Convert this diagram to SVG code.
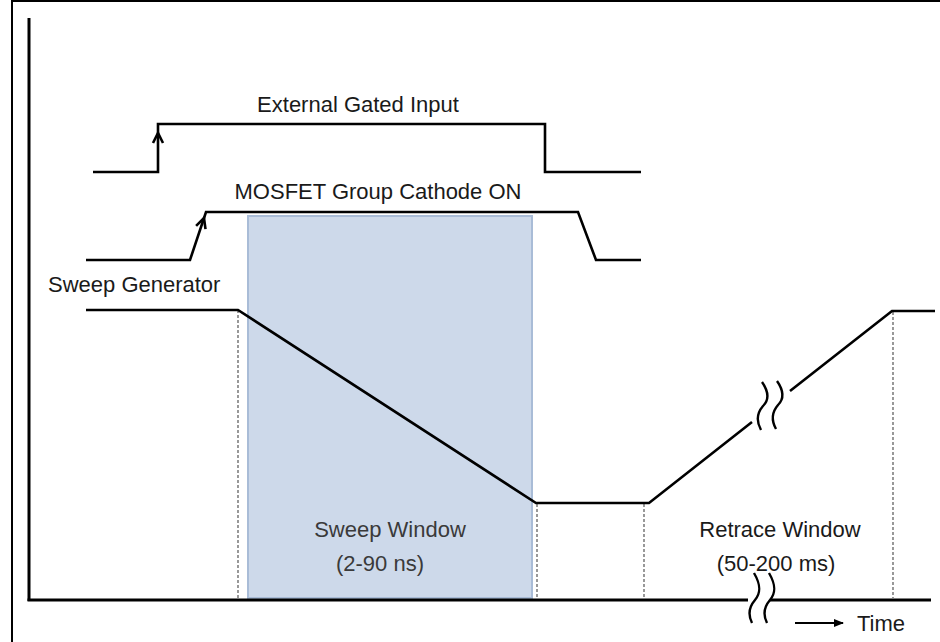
<svg xmlns="http://www.w3.org/2000/svg" width="940" height="642" viewBox="0 0 940 642">
<style>
.sig{fill:none;stroke:#000;stroke-width:2.6;stroke-linejoin:miter;stroke-linecap:butt}
.axis{fill:none;stroke:#000;stroke-width:3}
.dot{fill:none;stroke:#555;stroke-width:1.2;stroke-dasharray:3 2}
.wave{fill:none;stroke:#000;stroke-width:2.4}
.lbl{font-family:"Liberation Sans",Arial,sans-serif;font-size:22px;fill:#1a1a1a}
.win{font-family:"Liberation Sans",Arial,sans-serif;font-size:22px;fill:#3a3a3a}
</style>
<defs>
<marker id="ah" markerWidth="10" markerHeight="8" refX="9" refY="4" orient="auto" markerUnits="userSpaceOnUse">
<path d="M0,0 L10,4 L0,8 Z" fill="#000"/>
</marker>
</defs>
<rect x="0" y="0" width="940" height="642" fill="#fff"/>
<rect x="12" y="1" width="1000" height="1000" fill="none" stroke="#000" stroke-width="2"/>

<g id="sweep-window">
<rect x="248" y="216" width="284" height="382" fill="#cdd9ea" stroke="#a9bcd7" stroke-width="2"/>
<text class="win" x="390" y="537" text-anchor="middle">Sweep Window</text>
<text class="win" x="380" y="571" text-anchor="middle">(2-90 ns)</text>
</g>

<g id="guides">
<line class="dot" x1="238" y1="310" x2="238" y2="598"/>
<line class="dot" x1="537" y1="504" x2="537" y2="598"/>
<line class="dot" x1="644" y1="504" x2="644" y2="598"/>
<line class="dot" x1="893" y1="312" x2="893" y2="598"/>
</g>

<g id="axes">
<line class="axis" x1="29" y1="18" x2="29" y2="601"/>
<line class="axis" x1="27.5" y1="600" x2="748" y2="600"/>
<line class="axis" x1="770" y1="600" x2="931" y2="600"/>
<path class="wave" d="M754,573 C761,585 761,593 755,600 C749,607 748,615 752,623"/>
<path class="wave" d="M769,573 C776,585 776,593 770,600 C764,607 763,615 767,623"/>
<line stroke="#000" stroke-width="2.2" x1="795" y1="623" x2="843" y2="623" marker-end="url(#ah)"/>
<text class="lbl" x="857" y="631">Time</text>
</g>

<g id="external-gated-input">
<path class="sig" d="M93,172 H158 V124 H545 V172 H641"/>
<path class="sig" d="M153,143 L158,133 L163,143"/>
<text class="lbl" x="358" y="112" text-anchor="middle">External Gated Input</text>
</g>

<g id="mosfet-group-cathode">
<path class="sig" d="M86,260 H190 L206,212 H578 L596,260 H641"/>
<path class="sig" d="M196.1,225.9 L204,218 L205.5,229.1"/>
<text class="lbl" x="378" y="199" text-anchor="middle">MOSFET Group Cathode ON</text>
</g>

<g id="sweep-generator">
<text class="lbl" x="48" y="292">Sweep Generator</text>
<path class="sig" d="M86,310 H238 L536,503 H649 L752,422"/>
<path class="sig" d="M790,391 L892,311 H935"/>
<path class="wave" d="M762,382 C769,392 769,400 763,406 C757,413 756,421 761,430"/>
<path class="wave" d="M777,381 C784,391 784,399 778,405 C772,412 771,420 776,429"/>
</g>

<g id="retrace-window">
<text class="lbl" x="780" y="537" text-anchor="middle">Retrace Window</text>
<text class="lbl" x="776" y="571" text-anchor="middle">(50-200 ms)</text>
</g>
</svg>
